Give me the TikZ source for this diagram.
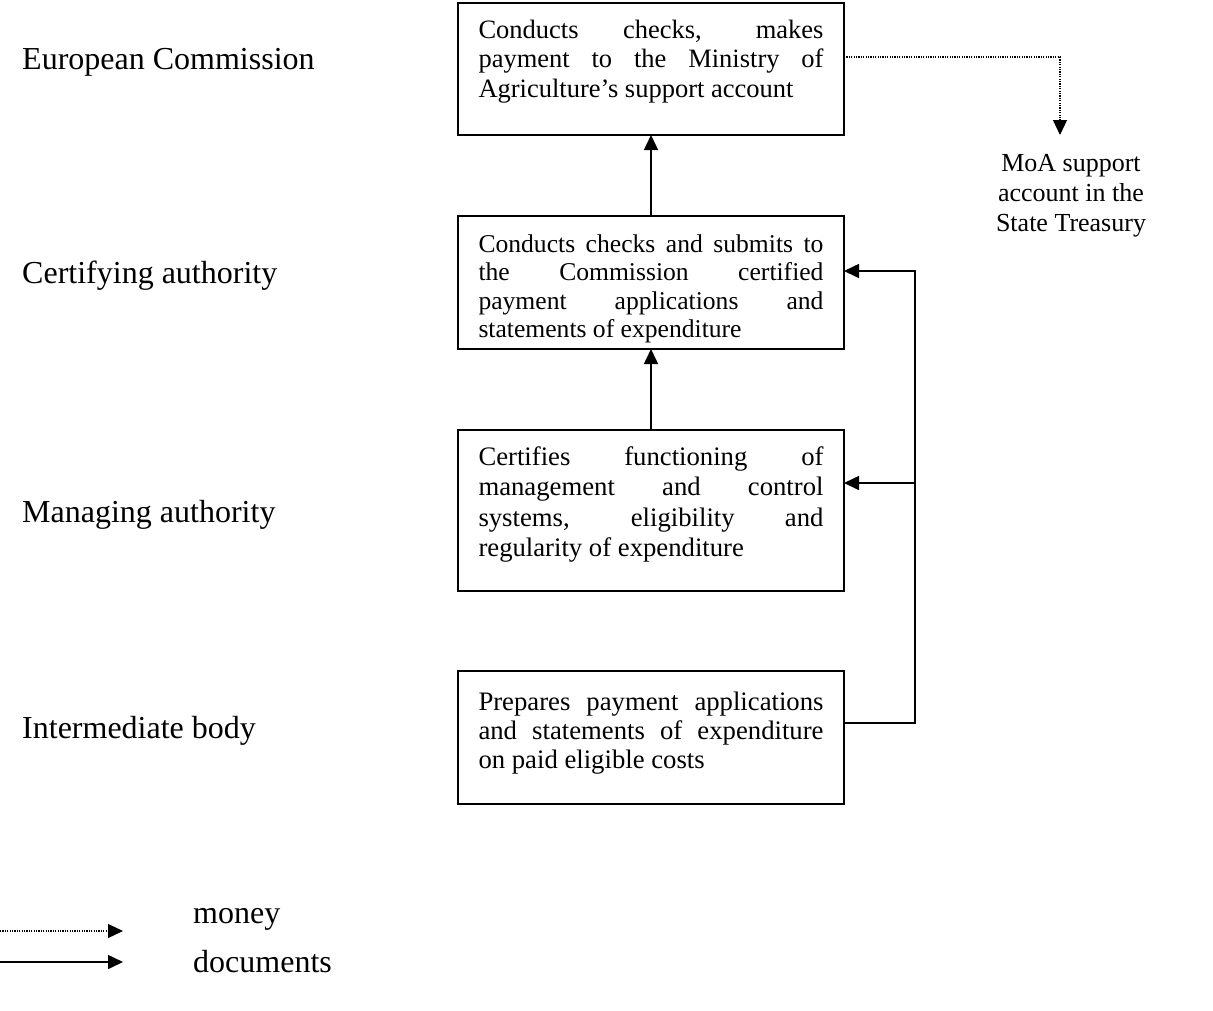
\documentclass[tikz,border=0pt]{standalone}
\usepackage{fontspec}
\setmainfont{Liberation Serif}
\usetikzlibrary{arrows.meta}
\begin{document}
\begin{tikzpicture}[x=1pt,y=-1pt,
  box/.style={draw, line width=1.6pt, anchor=north west, inner xsep=20.5pt, inner ysep=0pt, outer sep=0pt},
  lbl/.style={anchor=base west, inner sep=0pt, font=\fontsize{32}{38}\selectfont},
  doc/.style={line width=1.6pt, -{Triangle[length=15pt,width=14pt]}},
  money/.style={line width=1.2pt, dash pattern=on 1.2pt off 1.2pt, -{Triangle[length=15pt,width=14pt]}}]
\useasboundingbox (0,0) rectangle (1213,1010);

% level labels
\node[lbl] (l1) at (22,69) {European Commission};
\node[lbl] (l2) at (22,283) {Certifying authority};
\node[lbl] (l3) at (22,522) {Managing authority};
\node[lbl] (l4) at (22,738) {Intermediate body};

% boxes
\node[box] (b1) at (458,3) {\fontsize{26.5}{29.5}\selectfont\parbox[c][132pt][t]{345pt}{\rule{0pt}{35pt}Conducts checks, makes\linebreak payment to the Ministry of\linebreak Agriculture’s support account}};
\node[box] (b2) at (458,216) {\fontsize{25.6}{28.5}\selectfont\parbox[c][133pt][t]{345pt}{\rule{0pt}{36pt}Conducts checks and submits to\linebreak the Commission certified\linebreak payment applications and\linebreak statements of expenditure}};
\node[box] (b3) at (458,430) {\fontsize{26.7}{30.5}\selectfont\parbox[c][161pt][t]{345pt}{\rule{0pt}{35pt}Certifies functioning of\linebreak management and control\linebreak systems, eligibility and\linebreak regularity of expenditure}};
\node[box] (b4) at (458,671) {\fontsize{26.7}{29}\selectfont\parbox[c][133pt][t]{345pt}{\rule{0pt}{39pt}Prepares payment applications\linebreak and statements of expenditure\linebreak on paid eligible costs}};

% MoA account (base anchor = baseline of last line)
\node[font=\fontsize{26}{30}\selectfont, align=center, inner sep=0pt, anchor=base] (moa) at (1071,231) {MoA support\\account in the\\State Treasury};

% document flows
\draw[doc] (b2.north) -- (b1.south);
\draw[doc] (b3.north) -- (b2.south);
\coordinate (jb) at (915,723);
\coordinate (j2) at (915,271);
\coordinate (j3) at (915,483);
\draw[doc] (b4.east |- jb) -- (jb) -- (j2) -- (b2.east |- j2);
\draw[doc] (j3) -- (b3.east |- j3);

% money flow
\coordinate (mc) at (1060,57);
\coordinate (mt) at (1060,135);
\draw[money] (b1.east |- mc) -- (mc) -- (mt);

% legend
\node[lbl] (lm) at (193,923) {money};
\node[lbl] (ld) at (193,972) {documents};
\coordinate (m0) at (0,931);
\coordinate (m1) at (123,931);
\coordinate (d0) at (0,962);
\coordinate (d1) at (123,962);
\draw[money] (m0) -- (m1);
\draw[doc] (d0) -- (d1);
\end{tikzpicture}
\end{document}
